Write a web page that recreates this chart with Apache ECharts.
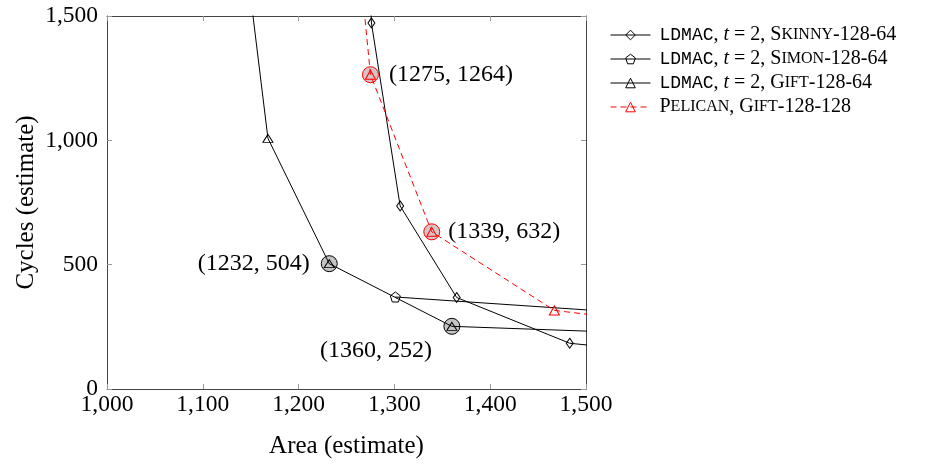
<!DOCTYPE html>
<html>
<head>
<meta charset="utf-8">
<script src="https://cdn.jsdelivr.net/npm/echarts@6/dist/echarts.min.js"></script>
<style>
  html, body { margin: 0; padding: 0; background: #fff; }
  #chart { width: 929px; height: 464px; }
</style>
</head>
<body>
<div id="chart"></div>
<script>
// data (area, cycles)
var skinnyArea   = [1261, 1276, 1306, 1365, 1483, 1719];
var skinnyCycles = [2944, 1472, 736, 368, 184, 92];

var simonArea   = [1301, 1700];
var simonCycles = [370, 266];

var giftArea   = [1136, 1168, 1232, 1360, 1616];
var giftCycles = [2016, 1008, 504, 252, 217];

var pelicanArea   = [1243, 1275, 1339, 1467, 1723];
var pelicanCycles = [2528, 1264, 632, 316, 200];

// highlighted points with their labels
var markBlack = [[1232, 504], [1360, 252]];
var markRed   = [[1275, 1264], [1339, 632]];

var seriesNames = [
  'LDMAC, t = 2, Skinny-128-64',
  'LDMAC, t = 2, Simon-128-64',
  'LDMAC, t = 2, Gift-128-64',
  'Pelican, Gift-128-128'
];
var legendRich = [
  '{tt|LDMAC}{rm|, }{it|t}{rm| = 2, S}{sc|KINNY}{rm|-128-64}',
  '{tt|LDMAC}{rm|, }{it|t}{rm| = 2, S}{sc|IMON}{rm|-128-64}',
  '{tt|LDMAC}{rm|, }{it|t}{rm| = 2, G}{sc|IFT}{rm|-128-64}',
  '{rm|P}{sc|ELICAN}{rm|, G}{sc|IFT}{rm|-128-128}'
];

function pairs(xs, ys) {
  var out = [];
  for (var i = 0; i < xs.length; i++) out.push([xs[i], ys[i]]);
  return out;
}

function fmt(v) {
  return String(v).replace(/\B(?=(\d{3})+(?!\d))/g, ',');
}

var serif = 'Liberation Serif';
var pentagon = 'path://M0,-1 L0.951,-0.309 L0.588,0.809 L-0.588,0.809 L-0.951,-0.309 Z';

var dom = document.getElementById('chart');
var myChart = echarts.init(dom);

function lineSeries(name, data, symbol, size, color, dashed) {
  return {
    name: name,
    type: 'line',
    data: data,
    symbol: symbol,
    symbolSize: size,
    showAllSymbol: true,
    clip: true,
    z: 3,
    lineStyle: { color: color, width: 1, type: dashed ? [6, 4] : 'solid' },
    itemStyle: { color: 'rgba(255,255,255,0)', borderColor: color, borderWidth: 1 },
    emphasis: { disabled: true }
  };
}

var axisLine = { show: true, onZero: false, lineStyle: { color: '#444', width: 1 } };
var axisTick = { show: true, inside: true, length: 5, lineStyle: { color: '#999' } };

var pointLabel = {
  show: true, fontFamily: serif, fontSize: 24, color: '#000',
  formatter: function (p) { return '(' + p.value[0] + ', ' + p.value[1] + ')'; }
};

var option = {
  animation: false,
  grid: { left: 107, right: 343, top: 16, bottom: 75 },
  legend: {
    orient: 'vertical',
    left: 610,
    top: 25,
    padding: 0,
    itemWidth: 40,
    itemHeight: 12,
    itemGap: 4,
    data: seriesNames,
    itemStyle: { borderWidth: 1 },
    lineStyle: { width: 1 },
    formatter: function (name) {
      return legendRich[seriesNames.indexOf(name)];
    },
    textStyle: {
      padding: [0, 0, 0, 4],
      rich: {
        rm: { fontFamily: serif, fontSize: 20, color: '#000', lineHeight: 18 },
        sc: { fontFamily: serif, fontSize: 16, color: '#000', lineHeight: 18 },
        it: { fontFamily: serif, fontSize: 20, fontStyle: 'italic', color: '#000', lineHeight: 18 },
        tt: { fontFamily: 'Liberation Mono', fontSize: 18, color: '#000', lineHeight: 18 }
      }
    }
  },
  xAxis: [{
    type: 'value', min: 1000, max: 1500, interval: 100,
    position: 'bottom',
    name: 'Area (estimate)', nameLocation: 'middle', nameGap: 45,
    nameMoveOverlap: false,
    nameTextStyle: { fontFamily: serif, fontSize: 25, color: '#000' },
    axisLine: axisLine, axisTick: axisTick, splitLine: { show: false },
    axisLabel: { fontFamily: serif, fontSize: 23.5, color: '#000', margin: 4, formatter: fmt }
  }, {
    type: 'value', min: 1000, max: 1500, interval: 100,
    position: 'top',
    axisLine: axisLine, axisTick: axisTick, splitLine: { show: false },
    axisLabel: { show: false }
  }],
  yAxis: [{
    type: 'value', min: 0, max: 1500, interval: 500,
    position: 'left',
    name: 'Cycles (estimate)', nameLocation: 'middle', nameGap: 68,
    nameMoveOverlap: false,
    nameTextStyle: { fontFamily: serif, fontSize: 25, color: '#000' },
    axisLine: axisLine, axisTick: axisTick, splitLine: { show: false },
    axisLabel: { fontFamily: serif, fontSize: 23.5, color: '#000', margin: 9, formatter: fmt }
  }, {
    type: 'value', min: 0, max: 1500, interval: 500,
    position: 'right',
    axisLine: axisLine, axisTick: axisTick, splitLine: { show: false },
    axisLabel: { show: false }
  }],
  series: [
    {
      type: 'scatter',
      data: [
        { value: markBlack[0], label: { position: 'left', distance: 11 } },
        { value: markBlack[1], label: { position: 'inside', offset: [-76, 24] } }
      ],
      symbol: 'circle', symbolSize: 16, z: 2,
      itemStyle: { color: '#c4c4c4', borderColor: '#000', borderWidth: 1, opacity: 1 },
      label: pointLabel,
      emphasis: { disabled: true }
    },
    {
      type: 'scatter',
      data: [
        { value: markRed[0], label: { position: 'right', distance: 10 } },
        { value: markRed[1], label: { position: 'right', distance: 8 } }
      ],
      symbol: 'circle', symbolSize: 16, z: 2,
      itemStyle: { color: '#d8c4c4', borderColor: '#ff0000', borderWidth: 1, opacity: 1 },
      label: pointLabel,
      emphasis: { disabled: true }
    },
    lineSeries(seriesNames[0], pairs(skinnyArea, skinnyCycles), 'diamond', [7, 10], '#000', false),
    lineSeries(seriesNames[1], pairs(simonArea, simonCycles), pentagon, 10, '#000', false),
    lineSeries(seriesNames[2], pairs(giftArea, giftCycles), 'triangle', [10, 8], '#000', false),
    lineSeries(seriesNames[3], pairs(pelicanArea, pelicanCycles), 'triangle', [10, 9], '#ff0000', true)
  ]
};

if (option && typeof option === 'object') {
  myChart.setOption(option);
}
</script>
</body>
</html>
